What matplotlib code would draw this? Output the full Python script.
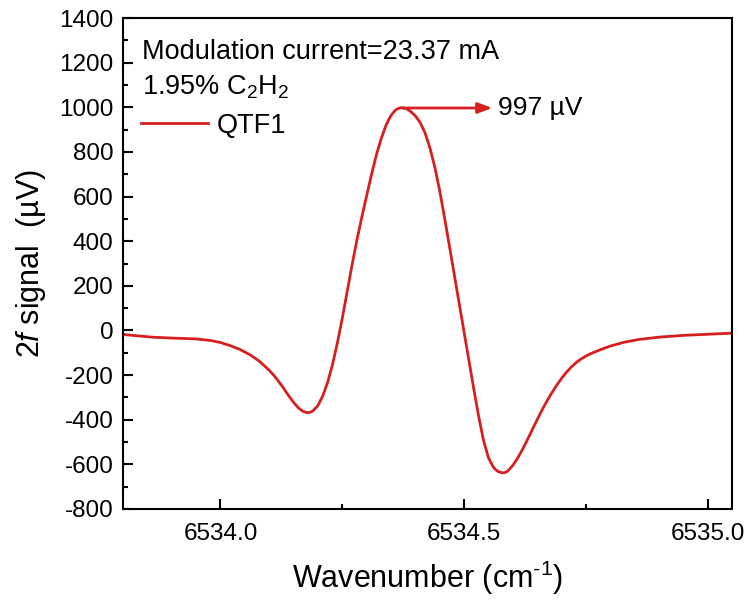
import matplotlib
matplotlib.use("Agg")
import matplotlib.pyplot as plt
from matplotlib.ticker import MultipleLocator, FormatStrFormatter

# 2f signal, wavenumber (cm^-1) vs signal (uV)
wavenumber = [
    6533.80, 6533.83, 6533.86, 6533.90, 6533.95, 6533.98, 6534.00, 6534.02,
    6534.04, 6534.06, 6534.08, 6534.10, 6534.11, 6534.12, 6534.13, 6534.14,
    6534.15, 6534.16, 6534.17, 6534.175, 6534.18, 6534.185, 6534.19, 6534.20,
    6534.21, 6534.22, 6534.23, 6534.24, 6534.25, 6534.26, 6534.27, 6534.28,
    6534.29, 6534.30, 6534.31, 6534.32, 6534.33, 6534.34, 6534.345, 6534.35,
    6534.355, 6534.36, 6534.365, 6534.37, 6534.374, 6534.38, 6534.385, 6534.39,
    6534.40, 6534.41, 6534.42, 6534.43, 6534.44, 6534.45, 6534.46, 6534.47,
    6534.48, 6534.49, 6534.50, 6534.51, 6534.52, 6534.53, 6534.54, 6534.55,
    6534.56, 6534.565, 6534.57, 6534.575, 6534.58, 6534.585, 6534.59, 6534.60,
    6534.61, 6534.62, 6534.63, 6534.64, 6534.65, 6534.66, 6534.67, 6534.68,
    6534.69, 6534.70, 6534.71, 6534.72, 6534.73, 6534.74, 6534.75, 6534.76,
    6534.78, 6534.80, 6534.83, 6534.86, 6534.90, 6534.95, 6535.00, 6535.05,
]
signal = [
    -18, -24, -30, -34, -38, -45, -54, -68,
    -85, -108, -138, -178, -202, -230, -260, -292,
    -322, -347, -363, -367, -368, -366, -360, -337,
    -293, -233, -153, -56, 54, 172, 292, 404,
    506, 603, 698, 786, 860, 920, 943, 963,
    977, 989, 995, 998, 998, 995, 990, 982,
    962, 932, 885, 818, 732, 627, 505, 378,
    250, 122, -6, -134, -262, -385, -493, -570,
    -612, -624, -632, -636, -638, -636, -629, -605,
    -572, -533, -490, -445, -400, -357, -317, -280,
    -246, -215, -188, -164, -144, -128, -115, -104,
    -86, -70, -52, -40, -30, -22, -17, -12,
]
peak_x = 6534.374
peak_val = 997
arrow_end_x = 6534.558

red = "#d61f1f"

plt.rcParams["font.family"] = ["Liberation Sans", "DejaVu Sans"]
plt.rcParams["mathtext.fontset"] = "custom"
plt.rcParams["mathtext.rm"] = "Liberation Sans"
plt.rcParams["mathtext.it"] = "Liberation Sans:italic"
plt.rcParams["axes.unicode_minus"] = False

fig = plt.figure(figsize=(7.5, 6.02), dpi=100)
ax = fig.add_axes([0.164, 0.1545, 0.812, 0.8155])

ax.plot(wavenumber, signal, color=red, lw=2.0, label="QTF1")

ax.annotate("", xy=(arrow_end_x, peak_val), xytext=(peak_x, peak_val),
            arrowprops=dict(arrowstyle="-|>,head_length=0.85,head_width=0.32",
                            color=red, lw=2.0, shrinkA=0, shrinkB=0))
ax.text(arrow_end_x + 0.012, peak_val, "997 µV", fontsize=19, va="center", ha="left")

ax.text(0.031, 0.931, "Modulation current=23.37 mA", transform=ax.transAxes,
        fontsize=19.5, va="center", ha="left")
ax.text(0.031, 0.859, "1.95% C$_2$H$_2$", transform=ax.transAxes,
        fontsize=19.5, va="center", ha="left")
ax.legend(loc="upper left", bbox_to_anchor=(0.011, 0.829), frameon=False,
          fontsize=19.5, handlelength=2.5, handletextpad=0.3, borderaxespad=0.0)

ax.set_xlim(6533.8, 6535.05)
ax.set_ylim(-800, 1400)
ax.xaxis.set_major_locator(MultipleLocator(0.5))
ax.xaxis.set_minor_locator(MultipleLocator(0.25))
ax.xaxis.set_major_formatter(FormatStrFormatter("%.1f"))
ax.yaxis.set_major_locator(MultipleLocator(200))
ax.yaxis.set_minor_locator(MultipleLocator(100))
ax.tick_params(which="both", direction="in", labelsize=17.5, width=1.5)
ax.tick_params(which="major", length=7)
ax.tick_params(which="minor", length=3.5)
ax.tick_params(axis="x", pad=10)
ax.tick_params(axis="y", pad=7)
for s in ax.spines.values():
    s.set_linewidth(1.5)

ax.set_xlabel("Wavenumber (cm$^{\\text{-}1}$)", fontsize=22, labelpad=10)
ax.set_ylabel("2$\\it{f}$ signal  (µV)", fontsize=22, labelpad=8)

fig.savefig("out.png", dpi=100)
